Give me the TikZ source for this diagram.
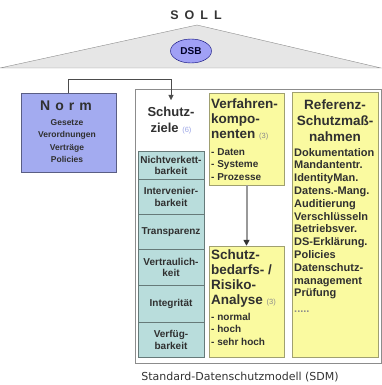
\documentclass[tikz,border=0pt]{standalone}
\usepackage{fontspec}
\setmainfont{Liberation Sans}
\newfontfamily\captionfont{DejaVu Sans}
\usepackage{tikz}
\usetikzlibrary{shapes.geometric, arrows.meta}

\definecolor{roofgray}{HTML}{E6E6E6}
\definecolor{linegray}{HTML}{8C8C8C}
\definecolor{dsbblue}{HTML}{A0A0F5}
\definecolor{normblue}{HTML}{A3ABF0}
\definecolor{cellteal}{HTML}{B9DDDC}
\definecolor{boxyellow}{HTML}{FAFAA0}
\definecolor{boxborder}{HTML}{A0A070}
\definecolor{textdark}{HTML}{303030}
\definecolor{countblue}{HTML}{9AA4E6}

% small counter behind a heading
\newcommand{\anzahl}[2]{{\mdseries\fontsize{7.5}{8}\selectfont\color{#1}(#2)}}

\begin{document}
\begin{tikzpicture}[
		x = 1pt, y = -1pt,
		every node/.style = {inner sep = 0pt, text = textdark},
		roof/.style = {draw = linegray, fill = roofgray},
		frame/.style = {draw = linegray, fill = white},
		normbox/.style = {draw = normblue!55!black, fill = normblue},
		cell/.style = {draw = cellteal!55!black, fill = cellteal, minimum width = 66pt,
			align = center, font = \bfseries\fontsize{10}{11.5}\selectfont},
		yellowbox/.style = {draw = boxborder, fill = boxyellow},
		head/.style = {font = \bfseries\fontsize{13.5}{15}\selectfont},
		items/.style = {align = left, font = \bfseries\fontsize{10}{12.5}\selectfont},
		link/.style = {draw = black!70, -{Triangle[length = 5pt, width = 5pt]}},
		flow/.style = {draw = black!40, line width = 2pt,
			-{Triangle[length = 6pt, width = 6pt, color = black!80]}}
		]
		\useasboundingbox (0,0) rectangle (381,385);
		
		% roof
		\draw[roof] (0,68) -- (197,25) -- (381,68) -- cycle;
		\node[font = \bfseries\fontsize{12.5}{14}\selectfont, text = black!80] (soll) at (196,15)
			{S\hspace{6pt}O\hspace{6pt}L\hspace{6pt}L};
		\node[ellipse, draw = blue!45!black, fill = dsbblue, minimum width = 41pt, minimum height = 24pt,
			font = \bfseries\fontsize{10}{12}\selectfont, text = black!85!blue] (dsb) at (191,51) {DSB};
		
		% Norm
		\node[normbox, minimum width = 95pt, minimum height = 79pt] (norm) at (68.5,132.5) {};
		\node[font = \bfseries\fontsize{14}{16}\selectfont] (normtitle) at (66,106)
			{N\hspace{5pt}o\hspace{5pt}r\hspace{5pt}m};
		\node[align = center, font = \bfseries\fontsize{8.5}{12.5}\selectfont] (normlist) at (67,141)
			{Gesetze\\Verordnungen\\Verträge\\Policies};
		
		% SDM frame
		\node[frame, anchor = north west, minimum width = 245.5pt, minimum height = 274pt] (sdm) at (135,89) {};
		\node[font = \captionfont\fontsize{11}{13}\selectfont, text = black!80] (caption) at (240,377)
			{Standard-Datenschutzmodell (SDM)};
		
		% Schutzziele
		\node[anchor = north, inner ysep = 6.5pt, align = center, font = \bfseries\fontsize{13}{16}\selectfont] (zhead)
			at (171,100) {Schutz-\\ziele \anzahl{countblue}{6}};
		\begin{scope}[nodes = {cell, anchor = north}]
			\node[minimum height = 28pt] (z1) at (171,151) {Nichtverkett-\\barkeit};
			\node[minimum height = 35pt] (z2) at (171,179) {Intervenier-\\barkeit};
			\node[minimum height = 35pt] (z3) at (171,214) {Transparenz};
			\node[minimum height = 36pt] (z4) at (171,249) {Vertraulich-\\keit};
			\node[minimum height = 37pt] (z5) at (171,285) {Integrität};
			\node[minimum height = 35pt] (z6) at (171,322) {Verfüg-\\barkeit};
		\end{scope}
		
		% Verfahrenskomponenten and Schutzbedarf
		\node[yellowbox, minimum width = 75pt, minimum height = 92pt] (verf) at (246.5,139) {};
		\node[head, align = left, anchor = north west] (verfhead) at (211,99)
			{Verfahren-\\kompo-\\nenten \anzahl{black!45}{3}};
		\node[items, anchor = north west] (verflist) at (211,148) {- Daten\\- Systeme\\- Prozesse};
		
		\node[yellowbox, minimum width = 75pt, minimum height = 111pt] (bedarf) at (246.5,301.5) {};
		\node[head, align = left, anchor = north west] (bedarfhead) at (211,250)
			{Schutz-\\bedarfs- /\\Risiko-\\Analyse \anzahl{black!45}{3}};
		\node[items, anchor = north west] (bedarflist) at (211,313) {- normal\\- hoch\\- sehr hoch};
		
		\draw[flow] (verf.south) -- (bedarf.north);
		
		% Referenz-Schutzmassnahmen
		\node[yellowbox, minimum width = 86pt, minimum height = 265pt] (ref) at (335,224.5) {};
		\node[head, align = center, anchor = north, font = \bfseries\fontsize{13.5}{16}\selectfont] (refhead)
			at (335,100) {Referenz-\\Schutzmaß-\\nahmen};
		\node[align = left, anchor = north west, font = \bfseries\fontsize{11}{12.8}\selectfont] (reflist)
			at (294,148) {Dokumentation\\Mandantentr.\\IdentityMan.\\Datens.-Mang.\\Auditierung\\Verschlüsseln\\
			Betriebsver.\\DS-Erklärung.\\Policies\\Datenschutz-\\management\\Prüfung\\[3pt]{\color{black!45}.....}};
		
		% Norm feeds the Schutzziele
		\draw[link] (norm.north) -- ++(0,-14) -| (zhead.north);
	\end{tikzpicture}
\end{document}
